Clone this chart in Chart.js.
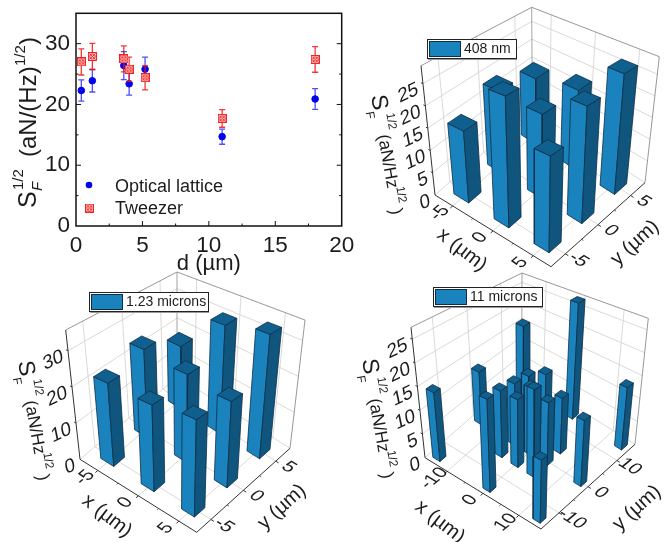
<!DOCTYPE html>
<html>
<head>
<meta charset="utf-8">
<script src="https://cdn.jsdelivr.net/npm/chart.js@4"></script>
<style>
  html, body { margin: 0; padding: 0; background: #fff; }
  canvas { position: absolute; }
</style>
</head>
<body>
<canvas id="scatterChart" style="left:0px;top:0px" width="360" height="280"></canvas>
<canvas id="bars408" style="left:360px;top:0px" width="310" height="280"></canvas>
<canvas id="bars123" style="left:0px;top:265px" width="340" height="277"></canvas>
<canvas id="bars11" style="left:340px;top:265px" width="330" height="277"></canvas>
<script>
// top left panel
const spacing = [0.4, 1.23, 3.6, 4.0, 5.2, 11, 18];
const latticeS = [22.3, 23.9, 26.4, 23.4, 25.8, 14.7, 20.9];
const latticeErr = [1.75, 1.85, 2.3, 1.85, 2.0, 1.25, 1.7];
const tweezerS = [27.0, 27.9, 27.5, 25.8, 24.4, 17.7, 27.4];
const tweezerErr = [2.15, 2.15, 2.15, 2.0, 2.0, 1.45, 2.1];
const xTicks2d = [0, 5, 10, 15, 20];
const yTicks2d = [0, 10, 20, 30];

// 3d panels, one value per bar
const x408 = [-5, -5, -5, 0, 0, 0, 5, 5, 5];
const y408 = [-5, 0, 5, -5, 0, 5, -5, 0, 5];
const z408 = [15.9, 19.5, 16.7, 27.8, 18.9, 18.9, 19.5, 25, 27.2];

const x123 = [-5, -5, -5, 0, 0, 0, 5, 5, 5];
const y123 = [-5, 0, 5, -5, 0, 5, -5, 0, 5];
const z123 = [22.6, 25.6, 19.4, 22.3, 24.1, 31.6, 23.8, 22.3, 34];

const x11 = [-14, -14, -14, 0, 0, 14, 14, 14, -4.5, -4.5, -4.5, 0, 0, 0, 4.5, 4.5, 4.5];
const y11 = [-14, 0, 14, -14, 14, -14, 0, 14, -4.5, 0, 4.5, -4.5, 0, 4.5, -4.5, 0, 4.5];
const z11 = [14.5, 12.3, 16.1, 18.8, 27.5, 12.2, 13.5, 13.5, 14.4, 13.8, 13.2, 14.4, 14.7, 15.5, 18.3, 13.4, 12.1];

const FONT = '"Liberation Sans", Arial, sans-serif';
const TEXT = "#1c1c1c";
const GRID = "#cfcfcf";
const EDGE = "#8c8c8c";
const AXIS = "#333";

const tweezerMark = document.createElement("canvas");
tweezerMark.width = 9;
tweezerMark.height = 9;
(() => {
  const c = tweezerMark.getContext("2d");
  c.fillStyle = "#ffd8d8";
  c.fillRect(0, 0, 9, 9);
  c.strokeStyle = "#f01010";
  c.lineWidth = 0.9;
  c.strokeRect(0.5, 0.5, 8, 8);
  c.beginPath();
  c.moveTo(1.5, 1.5); c.lineTo(7.5, 7.5);
  c.moveTo(7.5, 1.5); c.lineTo(1.5, 7.5);
  c.moveTo(7.2, 4.5); c.arc(4.5, 4.5, 2.7, 0, Math.PI * 2);
  c.stroke();
})();

const errorBars = {
  id: "errorBars",
  beforeDatasetDraw(chart, args) {
    const ds = chart.data.datasets[args.index];
    const { x, y } = chart.scales;
    const ctx = chart.ctx;
    ctx.save();
    ctx.strokeStyle = ds.errColor;
    ctx.lineWidth = 1.3;
    ds.data.forEach((p, i) => {
      const px = x.getPixelForValue(p.x);
      const hi = y.getPixelForValue(p.y + ds.errs[i]);
      const lo = y.getPixelForValue(p.y - ds.errs[i]);
      ctx.beginPath();
      ctx.moveTo(px, hi); ctx.lineTo(px, lo);
      ctx.moveTo(px - 3, hi); ctx.lineTo(px + 3, hi);
      ctx.moveTo(px - 3, lo); ctx.lineTo(px + 3, lo);
      ctx.stroke();
    });
    ctx.restore();
  }
};

const frame2d = {
  id: "frame2d",
  afterDatasetsDraw(chart) {
    const ctx = chart.ctx;
    const a = chart.chartArea;
    const { x, y } = chart.scales;
    ctx.save();
    ctx.strokeStyle = "#111";
    ctx.lineWidth = 1.5;
    ctx.strokeRect(a.left, a.top, a.right - a.left, a.bottom - a.top);
    ctx.lineWidth = 1;
    ctx.beginPath();
    for (let v = 2.5; v < 20; v += 2.5) {
      const len = v % 5 === 0 ? 5 : 2.5;
      ctx.moveTo(x.getPixelForValue(v), a.bottom);
      ctx.lineTo(x.getPixelForValue(v), a.bottom - len);
    }
    for (let v = 5; v < 35; v += 5) {
      const len = v % 10 === 0 ? 5 : 2.5;
      ctx.moveTo(a.left, y.getPixelForValue(v));
      ctx.lineTo(a.left + len, y.getPixelForValue(v));
      ctx.moveTo(a.right, y.getPixelForValue(v));
      ctx.lineTo(a.right - len, y.getPixelForValue(v));
    }
    ctx.stroke();

    // legend
    ctx.fillStyle = "#0000f0";
    ctx.beginPath();
    ctx.arc(89, 185, 3.3, 0, Math.PI * 2);
    ctx.fill();
    ctx.drawImage(tweezerMark, 85, 203.5);
    ctx.fillStyle = TEXT;
    ctx.textBaseline = "alphabetic";
    ctx.font = "18px " + FONT;
    ctx.fillText("Optical lattice", 115, 192);
    ctx.fillText("Tweezer", 115, 214);

    // y title
    ctx.translate(36, 208);
    ctx.rotate(-Math.PI / 2);
    [["S", 0, 0, 25], ["F", 17, 6, 15], ["1/2", 18, -13, 15],
     ["(aN/(Hz)", 51, 0, 24], ["1/2", 142, -11, 15], [")", 163, 0, 24]].forEach(([t, along, perp, size]) => {
      ctx.font = (t === "F" ? "italic " : "") + size + "px " + FONT;
      ctx.fillText(t, along, perp);
    });
    ctx.restore();
  }
};

new Chart(document.getElementById("scatterChart"), {
  type: "scatter",
  data: {
    datasets: [
      {
        label: "Optical lattice",
        data: spacing.map((d, i) => ({ x: d, y: latticeS[i] })),
        errs: latticeErr,
        errColor: "rgba(20,20,240,0.75)",
        backgroundColor: "#0000f0",
        borderColor: "#0000f0",
        pointRadius: 3.3,
        order: 2
      },
      {
        label: "Tweezer",
        data: spacing.map((d, i) => ({ x: d, y: tweezerS[i] })),
        errs: tweezerErr,
        errColor: "rgba(240,20,20,0.85)",
        pointStyle: tweezerMark,
        order: 1
      }
    ]
  },
  options: {
    responsive: false,
    animation: false,
    layout: { padding: { top: 13.3, right: 18.3, left: 0, bottom: 0 } },
    plugins: { legend: { display: false }, tooltip: { enabled: false } },
    scales: {
      x: {
        type: "linear", min: 0, max: 20,
        afterFit(s) { s.height = 54; },
        afterBuildTicks(s) { s.ticks = xTicks2d.map(v => ({ value: v })); },
        grid: { display: false }, border: { display: false },
        ticks: { color: TEXT, font: { size: 22.5, family: FONT }, padding: -2, maxRotation: 0 },
        title: { display: true, text: "d (µm)", color: TEXT, font: { size: 22, family: FONT }, padding: { top: 0, bottom: 3 } }
      },
      y: {
        type: "linear", min: 0, max: 35,
        afterFit(s) { s.width = 76; },
        afterBuildTicks(s) { s.ticks = yTicks2d.map(v => ({ value: v })); },
        grid: { display: false }, border: { display: false },
        ticks: { color: TEXT, font: { size: 22.5, family: FONT }, padding: -2 }
      }
    }
  },
  plugins: [errorBars, frame2d]
});

function floorPoint(c, u, v) {
  const w = [(1 - u) * (1 - v), u * (1 - v), u * v, (1 - u) * v];
  return [0, 1].map(k => w[0] * c.L[k] + w[1] * c.F[k] + w[2] * c.R[k] + w[3] * c.B[k]);
}

function cubeProject(p, x, y, z) {
  const u = (x + p.range) / (2 * p.range);
  const v = (y + p.range) / (2 * p.range);
  const t = z / p.zMax;
  const lo = floorPoint(p.low, u, v);
  const hi = floorPoint(p.high, u, v);
  return { x: lo[0] + (hi[0] - lo[0]) * t, y: lo[1] + (hi[1] - lo[1]) * t };
}

function polyline(pts, color, width, fill) {
  return {
    data: pts,
    showLine: true,
    pointRadius: 0,
    borderColor: color,
    borderWidth: width,
    borderJoinStyle: "round",
    backgroundColor: fill || "transparent",
    fill: fill ? "shape" : false,
    clip: false
  };
}

function floatText(ctx, text, px, py, ax, ay, bx, by, size, align) {
  ctx.save();
  ctx.transform(ax, ay, bx, by, px, py);
  ctx.font = size + "px " + FONT;
  ctx.textAlign = align;
  ctx.textBaseline = "middle";
  ctx.fillText(text, 0, 0);
  ctx.restore();
}

function barChart(id, p, xs, ys, zs) {
  const P = (x, y, z) => cubeProject(p, x, y, z);
  const r = p.range;
  const sets = [];

  // floor and the two back walls
  p.ticks.forEach(t => {
    sets.push(polyline([P(t, -r, 0), P(t, r, 0), P(t, r, p.zMax)], GRID, 0.8));
    sets.push(polyline([P(-r, t, p.zMax), P(-r, t, 0), P(r, t, 0)], GRID, 0.8));
  });
  p.zTicks.forEach(t => {
    sets.push(polyline([P(-r, -r, t), P(-r, r, t), P(r, r, t)], GRID, 0.8));
  });
  sets.push(polyline([P(-r, -r, 0), P(-r, r, 0), P(r, r, 0)], GRID, 0.8));
  sets.push(polyline([P(-r, -r, p.zMax), P(-r, r, p.zMax), P(r, r, p.zMax), P(r, r, 0)], EDGE, 0.9));
  sets.push(polyline([P(-r, r, 0), P(-r, r, p.zMax)], EDGE, 0.8));

  // axes with ticks
  sets.push(polyline([P(-r, -r, p.zMax), P(-r, -r, 0), P(r, -r, 0), P(r, r, 0)], AXIS, 1));
  p.ticks.forEach((t, i) => {
    sets.push(polyline([P(t, -r, 0), P(t, -r * 1.05, 0)], AXIS, 1));
    sets.push(polyline([P(r, t, 0), P(r * 1.05, t, 0)], AXIS, 1));
    if (i < p.ticks.length - 1) {
      const m = (t + p.ticks[i + 1]) / 2;
      sets.push(polyline([P(m, -r, 0), P(m, -r * 1.03, 0)], AXIS, 0.8));
      sets.push(polyline([P(r, m, 0), P(r * 1.03, m, 0)], AXIS, 0.8));
    }
  });
  p.zTicks.forEach(t => {
    sets.push(polyline([P(-r, -r, t), P(-r * 1.03, -r, t)], AXIS, 1));
  });

  // bars, far ones first
  const order = xs.map((_, i) => i).sort((a, b) => (xs[a] - ys[a]) - (xs[b] - ys[b]));
  const w = p.half;
  order.forEach(i => {
    const x = xs[i], y = ys[i], z = zs[i];
    const left = [P(x - w, y - w, 0), P(x + w, y - w, 0), P(x + w, y - w, z), P(x - w, y - w, z)];
    const right = [P(x + w, y - w, 0), P(x + w, y + w, 0), P(x + w, y + w, z), P(x + w, y - w, z)];
    const top = [P(x - w, y - w, z), P(x + w, y - w, z), P(x + w, y + w, z), P(x - w, y + w, z)];
    sets.push(polyline([...left, left[0]], "#0c2f47", 0.8, "#1a82bd"));
    sets.push(polyline([...right, right[0]], "#0c2f47", 0.8, "#10557e"));
    sets.push(polyline([...top, top[0]], "#0c2f47", 0.8, "#10608f"));
  });

  const labels = {
    id: "labels3d",
    afterDatasetsDraw(chart) {
      const ctx = chart.ctx;
      const sx = chart.scales.x, sy = chart.scales.y;
      const px = q => [sx.getPixelForValue(q.x), sy.getPixelForValue(q.y)];
      ctx.save();
      ctx.fillStyle = TEXT;

      p.ticks.forEach(t => {
        const a = px(P(t, -r, 0));
        floatText(ctx, String(t), a[0] - 13, a[1] + 7, 0.75, -0.62, 0.85, 0.52, 19, "center");
        const b = px(P(r, t, 0));
        floatText(ctx, String(t), b[0] + 13, b[1] + 6, 0.85, 0.52, -0.75, 0.62, 19, "center");
      });
      p.zLabels.forEach(t => {
        const a = px(P(-r, -r, t));
        floatText(ctx, String(t), a[0] - 5, a[1] + 5, 0.88, -0.42, 0.2, 0.95, 20, "right");
      });

      ctx.font = "20px " + FONT;
      ctx.textAlign = "center";
      ctx.textBaseline = "middle";
      [[p.xTitle, "x (µm)", 38], [p.yTitle, "y (µm)", -42]].forEach(([q, t, deg]) => {
        const c = px({ x: q[0], y: q[1] });
        ctx.save();
        ctx.translate(c[0], c[1]);
        ctx.rotate(deg * Math.PI / 180);
        ctx.fillText(t, 0, 0);
        ctx.restore();
      });

      // z title
      const o = px({ x: p.zTitle[0], y: p.zTitle[1] });
      ctx.save();
      ctx.translate(o[0], o[1]);
      ctx.rotate(80 * Math.PI / 180);
      ctx.textAlign = "left";
      ctx.textBaseline = "alphabetic";
      [["S", 0, 0, 23], ["F", 15, 8, 12], ["1/2", 20, -12, 12],
       ["(aN/Hz", 40, 0, 17.5], ["1/2", 94, -9, 12], [")", 115, 1, 18]].forEach(([t, along, perp, size]) => {
        ctx.font = size + "px " + FONT;
        ctx.fillText(t, along, perp);
      });
      ctx.restore();

      // legend box
      const b = p.legend;
      const tl = px({ x: b.x, y: b.y });
      ctx.fillStyle = "#fff";
      ctx.fillRect(tl[0], tl[1], b.w, 20);
      ctx.strokeStyle = "#222";
      ctx.lineWidth = 1;
      ctx.strokeRect(tl[0] + 0.5, tl[1] + 0.5, b.w - 1, 19);
      ctx.strokeStyle = "#999";
      ctx.beginPath();
      ctx.moveTo(tl[0] + 1, tl[1] + 20.5);
      ctx.lineTo(tl[0] + b.w, tl[1] + 20.5);
      ctx.stroke();
      ctx.fillStyle = "#1a82bd";
      ctx.fillRect(tl[0] + 2.5, tl[1] + 2.5, 31, 15);
      ctx.strokeStyle = "#0c2f47";
      ctx.strokeRect(tl[0] + 2.5, tl[1] + 2.5, 31, 15);
      ctx.fillStyle = TEXT;
      ctx.font = "14px " + FONT;
      ctx.textAlign = "left";
      ctx.textBaseline = "middle";
      ctx.fillText(b.text, tl[0] + 37, tl[1] + 10);
      ctx.restore();
    }
  };

  const canvas = document.getElementById(id);
  const left = parseFloat(canvas.style.left), topY = parseFloat(canvas.style.top);
  new Chart(canvas, {
    type: "scatter",
    data: { datasets: sets.reverse() },
    options: {
      responsive: false,
      animation: false,
      plugins: { legend: { display: false }, tooltip: { enabled: false } },
      scales: {
        x: { type: "linear", display: false, min: left, max: left + canvas.width },
        y: { type: "linear", display: false, reverse: true, min: topY, max: topY + canvas.height }
      }
    },
    plugins: [labels]
  });
}

barChart("bars408", {
  range: 7.2, half: 0.92, zMax: 29,
  ticks: [-5, 0, 5], zTicks: [5, 10, 15, 20, 25], zLabels: [0, 5, 10, 15, 20, 25],
  low: { L: [435, 195], F: [551, 266.7], R: [645, 182.7], B: [532.3, 110] },
  high: { L: [421, 65.7], F: [553.3, 119], R: [659.3, 56.7], B: [531.7, 7.3] },
  xTitle: [462, 250], yTitle: [635, 243], zTitle: [371, 96],
  legend: { x: 427, y: 39, w: 90, text: "408 nm" }
}, x408, y408, z408);

barChart("bars123", {
  range: 7.2, half: 0.8, zMax: 35.7,
  ticks: [-5, 0, 5], zTicks: [10, 20, 30], zLabels: [0, 10, 20, 30],
  low: { L: [80, 459.3], F: [196.7, 532.3], R: [290, 448.3], B: [177.7, 376.7] },
  high: { L: [65.7, 330], F: [200, 382], R: [305, 320], B: [177, 272] },
  xTitle: [107, 516], yTitle: [282, 507], zTitle: [18, 362],
  legend: { x: 89, y: 292, w: 120, text: "1.23 microns" }
}, x123, y123, z123);

barChart("bars11", {
  range: 16.2, half: 1.0, zMax: 27.5,
  ticks: [-10, 0, 10], zTicks: [5, 10, 15, 20, 25], zLabels: [0, 5, 10, 15, 20, 25],
  low: { L: [425, 457.7], F: [541, 529], R: [635, 444.3], B: [521.7, 373] },
  high: { L: [411, 327.3], F: [544, 386], R: [648.3, 318.3], B: [522, 273] },
  xTitle: [440, 522], yTitle: [637, 508], zTitle: [362, 360],
  legend: { x: 433, y: 287, w: 110, text: "11 microns" }
}, x11, y11, z11);
</script>
</body>
</html>
